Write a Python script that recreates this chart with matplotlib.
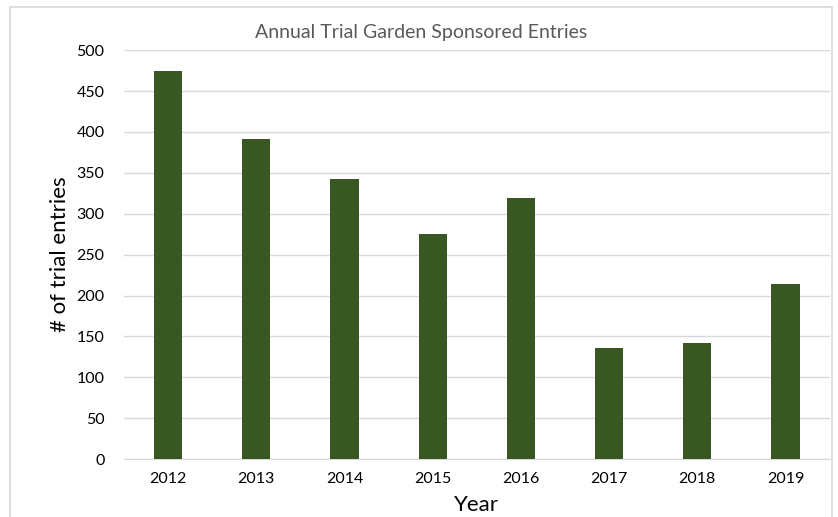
import matplotlib.pyplot as plt
import numpy as np
from matplotlib.patches import Rectangle

years = ['2012', '2013', '2014', '2015', '2016', '2017', '2018', '2019']
entries = [474, 391, 342, 275, 319, 136, 142, 214]

plt.rcParams['font.family'] = ['Lato', 'DejaVu Sans']

fig = plt.figure(figsize=(8.38, 5.17), dpi=100)
ax = fig.add_axes([0.148, 0.112, 0.842, 0.791])

# light outer frame like the spreadsheet chart box
fig.patches.append(Rectangle((10 / 838, -0.01), 822 / 838, 1 - 7 / 517 + 0.01,
                             transform=fig.transFigure, fill=False,
                             edgecolor='#d9d9d9', linewidth=1.2))

x = np.arange(len(years))
ax.bar(x, entries, width=0.32, color='#385723', zorder=3)

ax.set_xlim(-0.5, len(years) - 0.5)
ax.set_ylim(0, 500)
ax.set_yticks(np.arange(0, 501, 50))
ax.set_xticks(x)
ax.set_xticklabels(years)
ax.grid(axis='y', color='#d9d9d9', linewidth=1, zorder=0)
ax.tick_params(axis='both', length=0, labelsize=11.5, colors='#000000', pad=9)
ax.tick_params(axis='y', pad=14)
for s in ['top', 'right', 'left']:
    ax.spines[s].set_visible(False)
ax.spines['bottom'].set_color('#d9d9d9')

ax.set_xlabel('Year', fontsize=16, labelpad=7)
ax.set_ylabel('# of trial entries', fontsize=16, labelpad=5)
fig.text(0.502, 0.938, 'Annual Trial Garden Sponsored Entries', ha='center',
         va='center', fontsize=14, color='#595959')

fig.savefig('out.png', dpi=100)
